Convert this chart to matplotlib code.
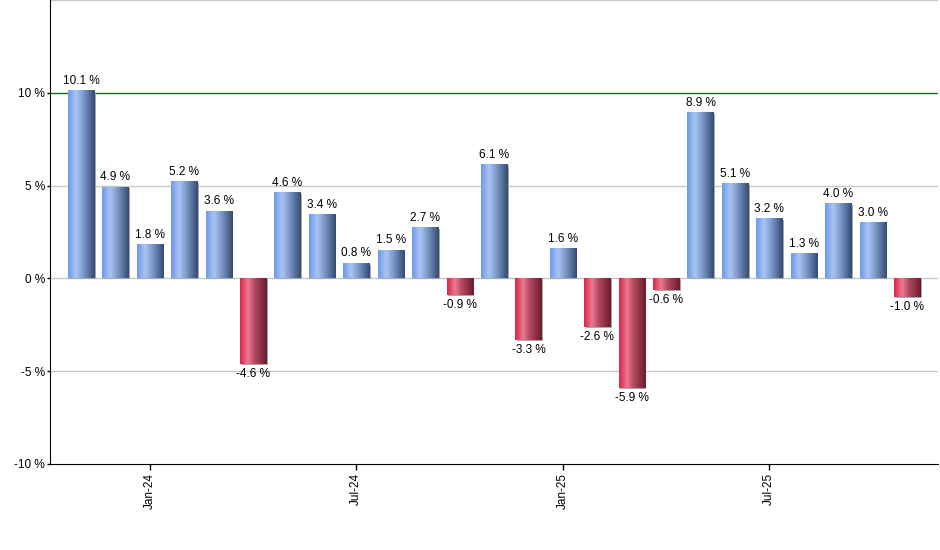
import matplotlib
matplotlib.use("Agg")
import matplotlib.pyplot as plt
import matplotlib.transforms as mtransforms
from matplotlib.colors import LinearSegmentedColormap
import numpy as np

plt.rcParams['font.family'] = ['Liberation Sans', 'DejaVu Sans']

months = ["Nov-23", "Dec-23", "Jan-24", "Feb-24", "Mar-24", "Apr-24", "May-24", "Jun-24",
          "Jul-24", "Aug-24", "Sep-24", "Oct-24", "Nov-24", "Dec-24", "Jan-25", "Feb-25",
          "Mar-25", "Apr-25", "May-25", "Jun-25", "Jul-25", "Aug-25", "Sep-25", "Oct-25", "Nov-25"]
values = [10.1, 4.9, 1.8, 5.2, 3.6, -4.6, 4.6, 3.4, 0.8, 1.5, 2.7, -0.9, 6.1, -3.3, 1.6,
          -2.6, -5.9, -0.6, 8.9, 5.1, 3.2, 1.3, 4.0, 3.0, -1.0]
tick_labels = ["Jan-24", "Jul-24", "Jan-25", "Jul-25"]
y_ticks = [-10, -5, 0, 5, 10]

blue_cmap = LinearSegmentedColormap.from_list(
    "b", [(0, "#6c98e8"), (0.3, "#a9c5f6"), (0.55, "#7f9ccc"), (1, "#334a72")])
red_cmap = LinearSegmentedColormap.from_list(
    "r", [(0, "#d8254a"), (0.3, "#ea7a8f"), (0.55, "#b34860"), (1, "#6a1c2c")])

fig = plt.figure(figsize=(9.4, 5.5), dpi=100)
ax = fig.add_axes([50/940, 86/550, 888/940, 464/550])

x = np.arange(len(values))
w = 0.76
grad = np.linspace(0, 1, 256).reshape(1, -1)

shadow_tr = mtransforms.offset_copy(ax.transData, fig=fig, x=1.5, y=-1.0, units='dots')
ax.bar(x, values, width=w, color="#a8a8a8", transform=shadow_tr, zorder=2)

for xi, v in zip(x, values):
    cmap = blue_cmap if v >= 0 else red_cmap
    ax.imshow(grad, cmap=cmap, aspect='auto', extent=[xi - w/2, xi + w/2, 0, v],
              origin='lower', zorder=3, interpolation='bilinear')
    if v >= 0:
        ax.annotate(f"{v:.1f} %", (xi, v), xytext=(0, 3), textcoords='offset points',
                    ha='center', va='bottom', fontsize=8.5, zorder=5)
    else:
        ax.annotate(f"{v:.1f} %", (xi, v), xytext=(0, -3), textcoords='offset points',
                    ha='center', va='top', fontsize=8.5, zorder=5)

ax.set_xlim(-0.9, 24.9)
ax.set_ylim(-10, 15)

for yv in [-5, 0, 5, 15]:
    ax.axhline(yv, color="#c8c8c8", lw=1, zorder=1)
ax.axhline(10, color="#1a6e1a", lw=1, zorder=1)

ax.set_yticks(y_ticks)
ax.set_yticklabels([f"{t} %" for t in y_ticks], fontsize=8.5)
ax.set_xticks([months.index(t) for t in tick_labels])
ax.set_xticklabels(tick_labels, rotation=90, fontsize=8.5)
ax.tick_params(axis='y', length=2.5, width=1, pad=1)
ax.tick_params(axis='x', length=4.3, width=1, pad=2)

for s in ['top', 'right']:
    ax.spines[s].set_visible(False)
ax.spines['left'].set_color('black')
ax.spines['bottom'].set_color('black')
ax.spines['left'].set_zorder(6)
ax.spines['bottom'].set_zorder(6)

fig.savefig("out.png", dpi=100)
